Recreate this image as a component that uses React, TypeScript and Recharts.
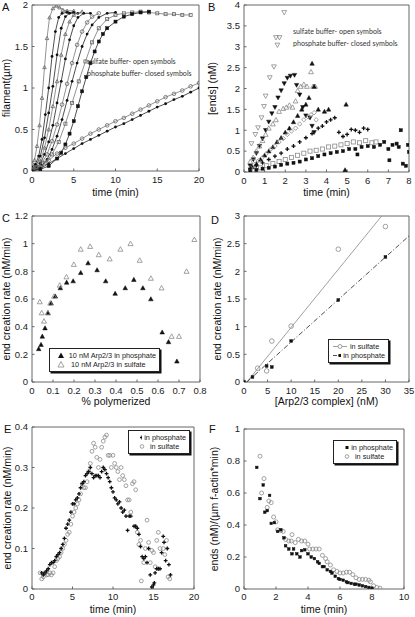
import { ComposedChart, Scatter, XAxis, YAxis, ReferenceArea } from "recharts"
import type { ReactNode } from "react"

type Pt = { x: number; y: number }
const P = (arr: number[][]): Pt[] => arr.map(([x, y]) => ({ x, y }))

const FONT = "'Liberation Sans', Arial, sans-serif"
const NOTE_FONT = "Lato, 'Open Sans', sans-serif"
const GRAY = "#8a8a8a"
const BLACK = "#111"

// ---- A: filament length vs time ----
const A_TRI_S = P([[0,0.1],[0.3,0.13],[0.6,0.3],[0.9,0.55],[1.2,0.88],[1.5,1.25],[1.8,1.6],[2.1,1.85],[2.5,1.96],[2.9,1.99],[3.3,1.97],[3.7,1.94],[4.2,1.93],[5,1.93]])
const A_DOT_P1 = P([[0,0.05],[0.4,0.08],[0.8,0.18],[1.2,0.38],[1.6,0.68],[2,1.0],[2.4,1.38],[2.8,1.68],[3.2,1.85],[3.6,1.9],[4.2,1.91],[5,1.91]])
const A_DOT_P2 = P([[0,0.03],[0.5,0.07],[1,0.18],[1.5,0.4],[2,0.7],[2.5,1.02],[3,1.4],[3.5,1.72],[4,1.86],[4.5,1.9],[5.5,1.9]])
const A_TRI_S2 = P([[0,0.02],[0.5,0.05],[1,0.12],[1.5,0.28],[2,0.5],[2.5,0.78],[3,1.08],[3.5,1.4],[4,1.65],[4.5,1.8],[5,1.88],[6,1.92]])
const A_DOT_P3 = P([[0,0.02],[0.5,0.04],[1,0.09],[1.5,0.2],[2,0.35],[2.5,0.55],[3,0.82],[3.5,1.08],[4,1.35],[4.5,1.58],[5,1.75],[5.5,1.85],[6.2,1.9],[7,1.9]])
const A_CIR_S = P([[0,0.02],[0.6,0.05],[1.2,0.1],[1.8,0.2],[2.4,0.36],[3,0.56],[3.6,0.8],[4.2,1.05],[4.8,1.3],[5.4,1.52],[6,1.68],[6.6,1.79],[7.2,1.86],[8,1.9]])
const A_DOT_P4 = P([[0,0.01],[0.6,0.03],[1.2,0.07],[1.8,0.14],[2.4,0.26],[3,0.42],[3.6,0.62],[4.2,0.85],[4.8,1.08],[5.4,1.3],[6,1.5],[6.6,1.65],[7.2,1.76],[8,1.85],[9,1.9],[10,1.91]])
const A_SQ_S = P([[0,0.01],[0.8,0.04],[1.6,0.1],[2.4,0.2],[3.2,0.35],[4,0.57],[4.8,0.82],[5.6,1.08],[6.4,1.32],[7.2,1.55],[8,1.72],[9,1.83],[10,1.88],[11,1.9],[12,1.91],[13,1.92],[14,1.91],[15,1.9],[16,1.89],[17,1.89],[18,1.88],[19,1.88]])
const A_SQ_P = P([[0,0],[1,0.02],[2,0.06],[3,0.15],[3.5,0.22],[4,0.32],[4.5,0.45],[5,0.6],[5.5,0.78],[6,0.96],[6.5,1.13],[7,1.3],[7.5,1.44],[8,1.56],[8.5,1.65],[9,1.72],[10,1.8],[11,1.86],[12,1.89],[13,1.91],[14,1.92]])
const A_LIN_S = P([[0,0],[1,0.05],[2,0.13],[3,0.21],[4,0.28],[5,0.33],[6,0.39],[7,0.45],[8,0.5],[9,0.55],[10,0.6],[11,0.64],[12,0.69],[13,0.74],[14,0.79],[15,0.84],[16,0.89],[17,0.93],[18,0.97],[19,1.02],[20,1.06]])
const A_LIN_P = P([[0,0],[1,0.03],[2,0.09],[3,0.15],[4,0.21],[5,0.27],[6,0.33],[7,0.38],[8,0.43],[9,0.48],[10,0.53],[11,0.57],[12,0.62],[13,0.67],[14,0.72],[15,0.77],[16,0.81],[17,0.86],[18,0.9],[19,0.95],[20,1.0]])

// ---- B: ends vs time ----
const B_DTRI_S = P([[0.36,0.68],[0.55,0.9],[0.68,1.06],[0.85,1.3],[0.97,1.57],[1.05,1.82],[1.25,2.26],[1.45,2.52],[1.62,3.04],[1.55,3.22],[1.72,3.22],[1.95,3.82]])
const B_DTRI_P = P([[0.3,0.15],[0.45,0.3],[0.6,0.45],[0.75,0.62],[0.9,0.8],[1.05,1.0],[1.2,1.2],[1.35,1.4],[1.5,1.55],[1.65,1.78],[1.8,1.95],[1.95,2.12],[2.1,2.25],[2.25,2.3],[2.45,2.32],[2.55,2.08],[2.7,1.85],[2.85,1.55],[3.0,1.35],[3.2,1.3],[3.3,1.1],[3.4,0.95]])
const B_TRI_S = P([[0.3,0.25],[0.45,0.35],[0.6,0.5],[0.75,0.62],[0.9,0.75],[1.05,0.9],[1.2,1.05],[1.4,1.15],[1.55,1.25],[1.7,1.45],[1.9,1.52],[2.05,1.55],[2.2,1.6],[2.35,1.55],[2.5,1.7],[2.6,1.95],[2.75,2.05],[2.9,2.1],[3.05,2.05],[3.25,2.4],[3.35,2.05],[3.45,2.05]])
const B_TRI_P = P([[0.4,0.12],[0.6,0.2],[0.8,0.3],[1.0,0.4],[1.2,0.5],[1.4,0.6],[1.6,0.72],[1.8,0.82],[2.0,0.95],[2.2,1.05],[2.4,1.2],[2.6,1.35],[2.8,1.5],[3.0,1.62],[3.15,1.78],[3.3,2.6],[3.4,2.05],[3.6,1.5],[3.9,1.45],[4.1,1.5],[4.95,1.62],[4.9,0.05]])
const B_DIA_S = P([[0.3,0.1],[0.5,0.18],[0.7,0.27],[0.9,0.35],[1.1,0.45],[1.3,0.55],[1.5,0.62],[1.7,0.72],[1.9,0.8],[2.1,0.9],[2.3,0.98],[2.5,1.05],[2.7,1.15],[2.9,1.25],[3.1,1.32],[3.25,1.37],[3.4,1.42],[3.5,1.25]])
const B_PLUS_P = P([[0.3,0.08],[0.6,0.15],[0.9,0.22],[1.2,0.3],[1.5,0.38],[1.8,0.45],[2.1,0.55],[2.4,0.62],[2.7,0.72],[3.0,0.82],[3.3,0.92],[3.6,1.05],[3.8,1.1],[4.0,1.2],[4.2,1.25],[4.4,1.3],[4.6,0.95],[4.8,0.85],[5.0,0.9],[5.2,1.02],[5.4,1.0],[5.6,0.95],[5.8,1.05],[6.0,1.02]])
const B_SQ_S = P([[0.5,0.05],[0.8,0.1],[1.1,0.15],[1.4,0.2],[1.7,0.25],[2.0,0.3],[2.3,0.35],[2.6,0.4],[2.9,0.45],[3.2,0.5],[3.5,0.52],[3.8,0.55],[4.1,0.6],[4.4,0.62],[4.7,0.65],[5.0,0.68],[5.3,0.72],[5.6,0.7],[5.9,0.75],[6.2,0.7],[6.4,0.72]])
const B_SQ_P = P([[0.3,0.02],[0.6,0.05],[0.9,0.08],[1.2,0.1],[1.5,0.13],[1.8,0.17],[2.1,0.2],[2.4,0.22],[2.7,0.25],[3.0,0.3],[3.3,0.33],[3.6,0.38],[3.9,0.42],[4.2,0.45],[4.5,0.48],[4.8,0.5],[5.1,0.55],[5.4,0.55],[5.5,0.42],[5.7,0.6],[6.0,0.62],[6.3,0.6],[6.6,0.65],[6.8,0.72],[7.0,0.55],[7.05,0.28],[7.2,0.65],[7.4,0.68],[7.5,0.6],[7.6,1.0],[7.7,0.2],[7.85,0.15],[7.95,0.65],[8.0,0.48]])

// ---- C: end creation rate vs % polymerized ----
const C_PHOS = P([[0.032,0.24],[0.043,0.27],[0.049,0.33],[0.062,0.39],[0.076,0.5],[0.091,0.57],[0.111,0.62],[0.135,0.68],[0.165,0.72],[0.196,0.73],[0.232,0.79],[0.267,0.86],[0.31,0.81],[0.351,0.73],[0.396,0.64],[0.444,0.68],[0.485,0.74],[0.528,0.68],[0.566,0.6],[0.62,0.36],[0.65,0.29],[0.69,0.15]])
const C_SULF = P([[0.037,0.58],[0.046,0.5],[0.057,0.44],[0.076,0.5],[0.087,0.57],[0.105,0.62],[0.132,0.7],[0.164,0.76],[0.199,0.85],[0.232,0.96],[0.277,0.98],[0.318,0.92],[0.37,0.89],[0.421,0.96],[0.469,1.0],[0.513,0.88],[0.566,0.75],[0.617,0.68],[0.665,0.33],[0.7,0.33],[0.736,0.8],[0.773,1.03]])

// ---- D: end creation rate vs Arp2/3 ----
const D_SULF = P([[2.9,0.25],[4.8,0.2],[5.9,0.74],[10,1.01],[20,2.4],[30,2.81]])
const D_PHOS = P([[0,0],[1.8,0.09],[4.8,0.29],[5.9,0.27],[10,0.74],[20,1.48],[30,2.26]])
const D_SULF_FIT = P([[0.6,0],[29.2,3]])
const D_PHOS_FIT = P([[0.6,0],[35,2.64]])

// ---- E: end creation rate vs time ----
const E_PHOS = P([[1.2,0.04],[1.4,0.035],[1.6,0.04],[1.8,0.045],[2,0.05],[2.2,0.06],[2.4,0.065],[2.6,0.065],[2.8,0.07],[3,0.08],[3.2,0.085],[3.4,0.09],[3.6,0.1],[3.8,0.11],[4,0.125],[4.2,0.15],[4.4,0.16],[4.6,0.17],[4.8,0.19],[5,0.21],[5.2,0.21],[5.4,0.22],[5.6,0.225],[5.8,0.235],[6,0.25],[6.2,0.26],[6.4,0.265],[6.6,0.28],[6.8,0.285],[7,0.29],[7.2,0.3],[7.4,0.285],[7.6,0.275],[7.8,0.28],[8,0.28],[8.2,0.28],[8.4,0.275],[8.6,0.29],[8.8,0.3],[9,0.295],[9.2,0.285],[9.4,0.275],[9.6,0.265],[9.8,0.25],[10,0.24],[10.2,0.225],[10.4,0.22],[10.6,0.21],[10.8,0.215],[11,0.2],[11.2,0.19],[11.4,0.195],[11.6,0.18],[11.8,0.145],[12,0.18],[12.2,0.18],[12.6,0.155],[12.8,0.155],[13,0.15],[13.2,0.135],[13.4,0.105],[13.6,0.08],[13.8,0.075],[14,0.08],[14.2,0.065],[14.4,0.1],[14.6,0.035],[14.8,0.005],[15,0.01],[15.1,0.015],[15.2,0.04],[15.4,0.05],[15.6,0.05],[15.8,0.05],[16,0.09],[16.2,0.13],[16.3,0.115],[16.5,0.07],[16.7,0.1],[16.9,0.06],[17.1,0.035]])
const E_SULF = P([[1,0.04],[1.2,0.025],[1.4,0.03],[1.6,0.04],[1.8,0.035],[2,0.035],[2.2,0.04],[2.4,0.035],[2.6,0.04],[2.8,0.055],[3,0.07],[3.2,0.075],[3.4,0.08],[3.6,0.09],[3.8,0.1],[4,0.11],[4.2,0.12],[4.4,0.135],[4.6,0.14],[4.8,0.16],[5,0.18],[5.2,0.19],[5.4,0.2],[5.6,0.21],[5.8,0.22],[6,0.235],[6.2,0.26],[6.4,0.25],[6.6,0.25],[6.8,0.265],[7,0.29],[7.2,0.31],[7.4,0.34],[7.6,0.36],[7.8,0.35],[8,0.325],[8.2,0.3],[8.4,0.32],[8.6,0.35],[8.8,0.365],[9,0.375],[9.2,0.38],[9.4,0.33],[9.6,0.33],[9.8,0.3],[10,0.33],[10.2,0.31],[10.4,0.3],[10.6,0.29],[10.8,0.27],[11,0.3],[11.2,0.28],[11.4,0.27],[11.6,0.255],[11.8,0.22],[12,0.22],[12.2,0.19],[12.4,0.26],[12.6,0.265],[12.8,0.245],[13,0.14],[13.2,0.11],[13.4,0.12],[13.5,0.02],[13.8,0.065],[14,0.1],[14.2,0.17],[14.4,0.115],[14.6,0.065],[14.8,0.095],[15,0.09],[15.2,0.055],[15.4,0.12],[15.6,0.14],[15.8,0.1],[16.2,0.1],[16.4,0.085],[16.6,0.12],[16.8,0.03],[17,0.025]])

// ---- F: ends per filament vs time ----
const F_PHOS = P([[0.8,0.76],[1,0.565],[1.2,0.65],[1.3,0.48],[1.45,0.49],[1.6,0.585],[1.7,0.41],[1.9,0.415],[2.1,0.36],[2.3,0.37],[2.5,0.32],[2.6,0.27],[2.8,0.25],[3,0.22],[3.1,0.25],[3.3,0.22],[3.5,0.2],[3.6,0.24],[3.8,0.245],[4,0.22],[4.2,0.2],[4.4,0.19],[4.6,0.17],[4.7,0.16],[4.9,0.14],[5,0.14],[5.2,0.12],[5.4,0.11],[5.5,0.1],[5.7,0.08],[5.9,0.065],[6,0.06],[6.2,0.055],[6.4,0.045],[6.5,0.04],[6.7,0.035],[6.9,0.03],[7,0.03],[7.2,0.025],[7.4,0.02],[7.6,0.015],[7.8,0.01],[8,0.005]])
const F_SULF = P([[1,0.83],[1.1,0.6],[1.25,0.69],[1.45,0.51],[1.55,0.55],[1.7,0.54],[1.85,0.45],[2,0.42],[2.1,0.37],[2.3,0.365],[2.45,0.36],[2.6,0.31],[2.8,0.3],[2.95,0.3],[3,0.34],[3.2,0.29],[3.4,0.31],[3.6,0.3],[3.8,0.3],[4,0.28],[4.1,0.25],[4.3,0.25],[4.5,0.25],[4.7,0.25],[4.9,0.21],[5.1,0.19],[5.2,0.17],[5.4,0.15],[5.6,0.12],[5.8,0.11],[6,0.1],[6.2,0.1],[6.4,0.105],[6.6,0.105],[6.8,0.09],[7,0.07],[7.2,0.06],[7.4,0.06],[7.6,0.06],[7.8,0.055],[7.9,0.045],[8.1,0.02],[8.3,0.01],[8.5,0.005]])

type Kind = "tri" | "dtri" | "circle" | "square" | "diamond" | "plus" | "dot" | "none"

const mk = (kind: Kind, color: string, open: boolean, r = 2.2) => (p: any) => {
  const { cx, cy } = p
  if (cx == null || cy == null || kind === "none") return <g />
  const fill = open ? "none" : color
  const sw = open ? 0.8 : 0.5
  switch (kind) {
    case "tri":
      return <path d={`M${cx},${cy - r}L${cx + r},${cy + r * 0.8}L${cx - r},${cy + r * 0.8}Z`} fill={fill} stroke={color} strokeWidth={sw} />
    case "dtri":
      return <path d={`M${cx},${cy + r}L${cx + r},${cy - r * 0.8}L${cx - r},${cy - r * 0.8}Z`} fill={fill} stroke={color} strokeWidth={sw} />
    case "square":
      return <rect x={cx - r * 0.85} y={cy - r * 0.85} width={r * 1.7} height={r * 1.7} fill={fill} stroke={color} strokeWidth={sw} />
    case "diamond":
      return <path d={`M${cx},${cy - r}L${cx + r},${cy}L${cx},${cy + r}L${cx - r},${cy}Z`} fill={fill} stroke={color} strokeWidth={sw} />
    case "plus":
      return <path d={`M${cx - r},${cy}H${cx + r}M${cx},${cy - r}V${cy + r}`} stroke={color} strokeWidth={1.3} />
    case "dot":
      return <circle cx={cx} cy={cy} r={r} fill={color} />
    default:
      return <circle cx={cx} cy={cy} r={r} fill={fill} stroke={color} strokeWidth={sw} />
  }
}

type PanelProps = {
  left: number; top: number; w: number; h: number
  xd: [number, number]; yd: [number, number]; xt: number[]; yt: number[]
  xl: string; yl: string; ylOff: number; xlOff: number; tm?: number
  children: ReactNode
}

// plot area of each panel is placed at (left, top) with size w x h
function Panel({ left, top, w, h, xd, yd, xt, yt, xl, yl, ylOff, xlOff, tm = 7.5, children }: PanelProps) {
  const yw = 40, mt = 6, mr = 8, xh = 30
  return (
    <div style={{ position: "absolute", left: left - yw, top: top - mt }}>
      <ComposedChart width={yw + w + mr} height={mt + h + xh} margin={{ top: mt, right: mr, bottom: 0, left: 0 }}>
        <XAxis type="number" dataKey="x" domain={xd} ticks={xt} interval={0} allowDataOverflow
          axisLine={false} tickLine={{ stroke: "#666" }} tickSize={-2.5} tickMargin={tm} height={xh}
          tick={{ fontSize: 9.5, fill: "#222", fontFamily: FONT }}
          label={{ value: xl, position: "insideBottom", offset: xlOff, style: { fontSize: 10.5, fill: "#111", fontFamily: FONT } }} />
        <YAxis type="number" dataKey="y" domain={yd} ticks={yt} interval={0} allowDataOverflow
          axisLine={false} tickLine={{ stroke: "#666" }} tickSize={-2.5} tickMargin={6.5} width={yw}
          tick={{ fontSize: 9.5, fill: "#222", fontFamily: FONT }}
          label={{ value: yl, angle: -90, position: "insideLeft", offset: ylOff, style: { textAnchor: "middle", fontSize: 10.5, fill: "#111", fontFamily: FONT } }} />
        <ReferenceArea x1={xd[0]} x2={xd[1]} y1={yd[0]} y2={yd[1]} fill="none" stroke="#555" strokeWidth={0.9} />
        {children}
      </ComposedChart>
    </div>
  )
}

const dots = (key: string, data: Pt[], kind: Kind, open: boolean, r = 2.2) => (
  <Scatter key={key} data={data} isAnimationActive={false} shape={mk(kind, open ? GRAY : BLACK, open, r)} />
)
const curve = (key: string, data: Pt[], kind: Kind, open: boolean, r = 1.8) => (
  <Scatter key={key} data={data} isAnimationActive={false} lineType="joint"
    line={{ stroke: open ? "#777" : "#222", strokeWidth: 0.8 }} shape={mk(kind, open ? "#666" : BLACK, open, r)} />
)

const Letter = ({ x, y, c }: { x: number; y: number; c: string }) => (
  <div style={{ position: "absolute", left: x, top: y, fontFamily: FONT, fontSize: 11, lineHeight: "11px", color: "#111" }}>{c}</div>
)

const Note = ({ x, y, lines }: { x: number; y: number; lines: string[] }) => (
  <div style={{ position: "absolute", left: x, top: y, fontFamily: NOTE_FONT, fontSize: 7.1, lineHeight: "11.5px", color: "#333", whiteSpace: "nowrap" }}>
    {lines.map((l) => <div key={l}>{l}</div>)}
  </div>
)

const LegendBox = ({ x, y, w, rows }: { x: number; y: number; w: number; rows: { label: string; icon: ReactNode }[] }) => (
  <div style={{ position: "absolute", left: x, top: y, width: w, background: "#fff", border: "1px solid #222", boxShadow: "1.5px 1.5px 0 #111", padding: "2px 3px", fontFamily: FONT, fontSize: 7.3, color: "#222" }}>
    {rows.map((r) => (
      <div key={r.label} style={{ display: "flex", alignItems: "center", height: 9, whiteSpace: "nowrap" }}>
        <svg width={16} height={9} style={{ marginRight: 2 }}>{r.icon}</svg>
        {r.label}
      </div>
    ))}
  </div>
)

export default function App() {
  return (
    <div style={{ position: "absolute", left: 0, top: 0, width: 415, height: 617, background: "#fff", overflow: "hidden" }}>
      <Panel left={32} top={5} w={167} h={166} xd={[0, 20]} yd={[0, 2]} xt={[0, 5, 10, 15, 20]} yt={[0, 0.5, 1, 1.5, 2]}
        xl="time (min)" yl="filament(µm)" ylOff={14} xlOff={5}>
        {[
          curve("a1", A_TRI_S, "tri", true),
          curve("a2", A_DOT_P1, "dot", false, 1.4),
          curve("a3", A_DOT_P2, "dot", false, 1.4),
          curve("a4", A_TRI_S2, "tri", true),
          curve("a5", A_DOT_P3, "dot", false, 1.4),
          curve("a6", A_CIR_S, "circle", true),
          curve("a7", A_DOT_P4, "dot", false, 1.4),
          curve("a8", A_SQ_S, "square", true),
          curve("a9", A_SQ_P, "square", false),
          curve("a10", A_LIN_S, "circle", true),
          curve("a11", A_LIN_P, "dot", false, 1.4),
        ]}
      </Panel>
      <Panel left={244} top={5} w={165} h={167} xd={[0, 8]} yd={[0, 4]} xt={[0, 1, 2, 3, 4, 5, 6, 7, 8]} yt={[0, 0.5, 1, 1.5, 2, 2.5, 3, 3.5, 4]}
        xl="time (min)" yl="[ends] (nM)" ylOff={8} xlOff={6}>
        {[
          dots("b1", B_DTRI_S, "dtri", true, 2.4),
          dots("b2", B_DTRI_P, "dtri", false, 2.2),
          dots("b3", B_TRI_S, "tri", true, 2.4),
          dots("b4", B_TRI_P, "tri", false, 2.2),
          dots("b5", B_DIA_S, "diamond", true, 2.2),
          dots("b6", B_PLUS_P, "plus", false, 2),
          dots("b7", B_SQ_S, "square", true, 2.4),
          dots("b8", B_SQ_P, "square", false, 1.8),
        ]}
      </Panel>
      <Panel left={32} top={216} w={168} h={166} xd={[0, 0.8]} yd={[0, 1.2]} xt={[0, 0.1, 0.2, 0.3, 0.4, 0.5, 0.6, 0.7, 0.8]} yt={[0, 0.2, 0.4, 0.6, 0.8, 1, 1.2]}
        xl="% polymerized" yl="end creation rate (nM/min)" ylOff={14.5} xlOff={7}>
        {[
          dots("c1", C_PHOS, "tri", false, 2.3),
          dots("c2", C_SULF, "tri", true, 2.5),
        ]}
      </Panel>
      <Panel left={244} top={216} w={165} h={166} xd={[0, 35]} yd={[0, 3]} xt={[0, 5, 10, 15, 20, 25, 30, 35]} yt={[0, 0.5, 1, 1.5, 2, 2.5, 3]}
        xl="[Arp2/3 complex] (nM)" yl="end creation rate (nM/min)" ylOff={13} xlOff={7}>
        {[
          <Scatter key="d3" data={D_SULF_FIT} isAnimationActive={false} lineType="joint" line={{ stroke: "#888", strokeWidth: 0.8 }} shape={mk("none", GRAY, true)} />,
          <Scatter key="d4" data={D_PHOS_FIT} isAnimationActive={false} lineType="joint" line={{ stroke: "#222", strokeWidth: 0.8, strokeDasharray: "5 2 1 2" }} shape={mk("none", BLACK, false)} />,
          dots("d1", D_SULF, "circle", true, 2.3),
          dots("d2", D_PHOS, "square", false, 1.6),
        ]}
      </Panel>
      <Panel left={32} top={427} w={162} h={162} xd={[0, 20]} yd={[0, 0.4]} xt={[0, 5, 10, 15, 20]} yt={[0, 0.1, 0.2, 0.3, 0.4]}
        xl="time (min)" yl="end creation rate (nM/min)" ylOff={15} xlOff={6} tm={7}>
        {[
          dots("e2", E_SULF, "circle", true, 1.9),
          dots("e1", E_PHOS, "plus", false, 1.9),
        ]}
      </Panel>
      <Panel left={244} top={429} w={160} h={160} xd={[0, 10]} yd={[0, 1]} xt={[0, 2, 4, 6, 8, 10]} yt={[0, 0.2, 0.4, 0.6, 0.8, 1]}
        xl="time (min)" yl="ends (nM)/(µm f-actin*min)" ylOff={10} xlOff={6} tm={7}>
        {[
          dots("f2", F_SULF, "circle", true, 2),
          dots("f1", F_PHOS, "square", false, 1.5),
        ]}
      </Panel>

      <Letter x={2} y={2} c="A" />
      <Letter x={208} y={2} c="B" />
      <Letter x={2} y={213} c="C" />
      <Letter x={211} y={215} c="D" />
      <Letter x={4} y={424} c="E" />
      <Letter x={209} y={424} c="F" />

      <Note x={87} y={56} lines={["sulfate buffer- open symbols", "phosphate buffer- closed symbols"]} />
      <Note x={293} y={26} lines={["sulfate buffer- open symbols", "phosphate buffer- closed symbols"]} />

      <LegendBox x={49} y={348} w={103} rows={[
        { label: "10 nM Arp2/3 in phosphate", icon: <path d="M8,1.5L11,7L5,7Z" fill={BLACK} /> },
        { label: "10 nM Arp2/3 in sulfate", icon: <path d="M8,1.5L11,7L5,7Z" fill="none" stroke={GRAY} strokeWidth={0.8} /> },
      ]} />
      <LegendBox x={328} y={339} w={53} rows={[
        { label: "in sulfate", icon: <g><line x1={1} y1={4.5} x2={15} y2={4.5} stroke="#888" strokeWidth={0.8} /><circle cx={8} cy={4.5} r={2} fill="#fff" stroke={GRAY} strokeWidth={0.8} /></g> },
        { label: "in phosphate", icon: <g><line x1={1} y1={4.5} x2={15} y2={4.5} stroke="#222" strokeWidth={0.8} strokeDasharray="4 1.5 1 1.5" /><rect x={6.5} y={3} width={3} height={3} fill={BLACK} /></g> },
      ]} />
      <LegendBox x={128} y={430} w={54} rows={[
        { label: "in phosphate", icon: <path d="M10,2.5V6.5M8,4.5H12" stroke={BLACK} strokeWidth={1.3} /> },
        { label: "in sulfate", icon: <circle cx={10} cy={4.5} r={1.8} fill="none" stroke={GRAY} strokeWidth={0.8} /> },
      ]} />
      <LegendBox x={333} y={440} w={56} rows={[
        { label: "in phosphate", icon: <rect x={8.5} y={3} width={3} height={3} fill={BLACK} /> },
        { label: "in sulfate", icon: <circle cx={10} cy={4.5} r={1.8} fill="none" stroke={GRAY} strokeWidth={0.8} /> },
      ]} />
    </div>
  )
}
